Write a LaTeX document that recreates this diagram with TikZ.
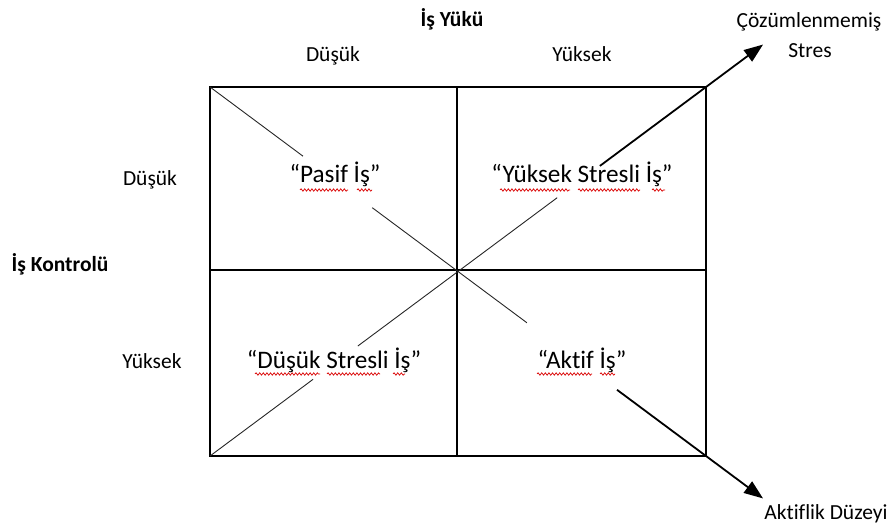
\documentclass[tikz,border=0pt]{standalone}
\usepackage{fontspec}
\setmainfont{Carlito}[Ligatures=CommonOff]
\usetikzlibrary{arrows.meta,calc,decorations.pathmorphing}
\begin{document}
\begin{tikzpicture}[x=1pt,y=-1pt,
  lbl/.style={font=\fontsize{21.5}{24}\selectfont, inner sep=0pt, anchor=base},
  quad/.style={font=\fontsize{25.2}{28}\selectfont, inner sep=0pt, anchor=base},
  frame/.style={line width=1.3pt},
  diag/.style={line width=0.9pt, draw=black!85},
  arr/.style={line width=1.8pt, -{Triangle[length=19pt,width=14pt]}},
  wavy/.style={draw=red!85!black, line width=0.7pt, decorate,
    decoration={snake, segment length=3.6pt, amplitude=1.2pt}}]
\useasboundingbox (0,0) rectangle (891,526);
% frame
\coordinate (TL) at (210,87);
\coordinate (TR) at (706,87);
\coordinate (BL) at (210,456);
\coordinate (BR) at (706,456);
\coordinate (TM) at (457,87);
\coordinate (BM) at (457,456);
\coordinate (ML) at (210,270);
\coordinate (MR) at (706,270);
\draw[frame] (TL) rectangle (BR);
\draw[frame] (TM) -- (BM);
\draw[frame] (ML) -- (MR);
% labels
\node[lbl, font=\bfseries\fontsize{21.5}{24}\selectfont] (yuk) at (452,27) {İş Yükü};
\node[lbl] (tdus) at (333,62) {Düşük};
\node[lbl] (tyuk) at (582,62) {Yüksek};
\node[lbl, font=\bfseries\fontsize{21.5}{24}\selectfont] (kon) at (60,272) {İş Kontrolü};
\node[lbl] (ldus) at (150,186) {Düşük};
\node[lbl] (lyuk) at (152,368) {Yüksek};
\node[lbl] (coz) at (809,28) {Çözümlenmemiş};
\node[lbl] (str) at (810,58) {Stres};
\node[lbl] (akd) at (826,519) {Aktiflik Düzeyi};
% quadrants
\node[quad] (pasif) at (335,183) {“Pasif İş”};
\node[quad] (yss) at (582,183) {“Yüksek Stresli İş”};
\node[quad] (dss) at (334,368) {“Düşük Stresli İş”};
\node[quad] (aktif) at (582,368) {“Aktif İş”};
% spell-check underlines
\draw[wavy] (300,190) -- (348,190);
\draw[wavy] (357,190) -- (372,190);
\draw[wavy] (500,190) -- (570,190);
\draw[wavy] (578,190) -- (640,190);
\draw[wavy] (652,190) -- (665,190);
\draw[wavy] (255,374) -- (320,374);
\draw[wavy] (327,374) -- (380,374);
\draw[wavy] (393,374) -- (405,374);
\draw[wavy] (537,374) -- (592,374);
\draw[wavy] (600,374) -- (615,374);
% diagonals
\draw[diag] (TL) -- ($(TL)!0.1875!(BR)$);
\draw[diag] ($(TL)!0.327!(BR)$) -- ($(TL)!0.639!(BR)$);
\draw[arr] ($(TL)!0.8206!(BR)$) -- ($(TL)!1.115!(BR)$);
\draw[diag] (BL) -- ($(BL)!0.2077!(TR)$);
\draw[diag] ($(BL)!0.298!(TR)$) -- ($(BL)!0.70!(TR)$);
\draw[arr] ($(BL)!0.786!(TR)$) -- ($(BL)!1.115!(TR)$);
\end{tikzpicture}
\end{document}
